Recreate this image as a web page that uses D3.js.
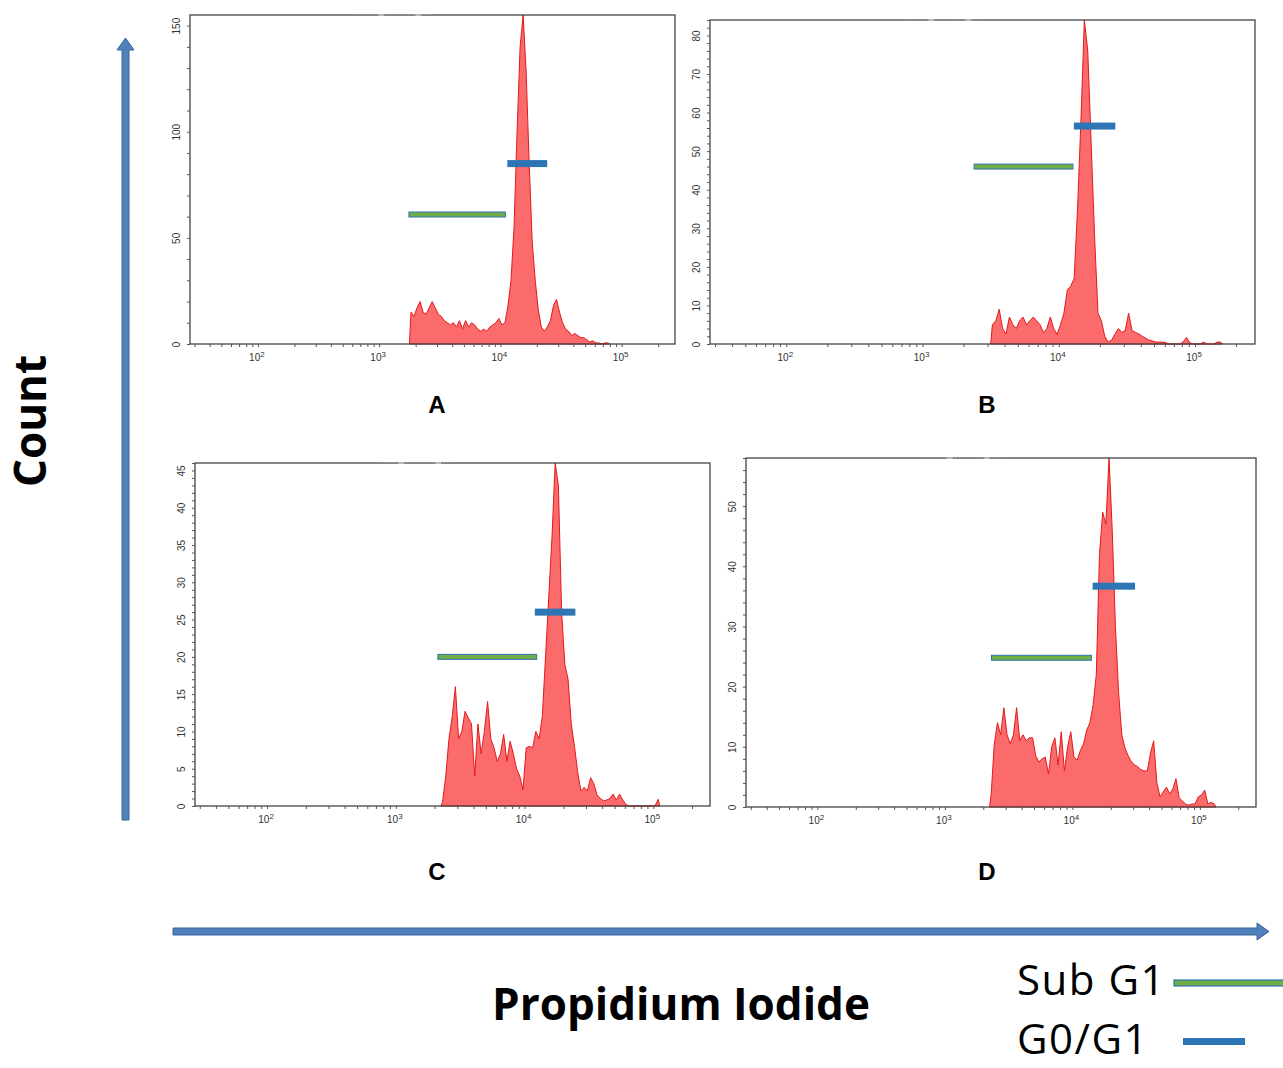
<!DOCTYPE html>
<html>
<head>
<meta charset="utf-8">
<script src="https://cdn.jsdelivr.net/npm/d3@7"></script>
<style>
  body { margin: 0; background: #fff; }
  svg { display: block; }
</style>
</head>
<body>
<script>
// histogram channels: first log10 channel and bin width (log10 units)
var binStep = 0.025;

var startA = 3.25;
var countsA = [15, 13, 17, 20, 15, 14, 17, 20, 17, 14, 13, 11, 10, 9, 10, 8, 11, 7, 11, 8,
	10, 9, 7, 6, 7, 6, 8, 9, 10, 12, 9, 10, 18, 30, 55, 100, 140, 155, 128, 85,
	48, 30, 16, 8, 6, 8, 11, 18, 21, 15, 10, 7, 6, 4, 5, 4, 3, 3, 2, 1,
	1.5, 0.5, 0.5, 0, 0.5, 0.5];

var startB = 3.5;
var countsB = [5, 6, 9, 4, 2.6, 7, 5, 4, 6, 7, 5, 6, 7, 6, 5, 3, 4, 7, 4, 2.5,
	5, 8, 14, 15, 17, 35, 58, 84, 76, 52, 28, 8, 6, 2, 0.5, 1, 2.6, 4, 3, 3.5,
	8, 3.5, 3, 2.6, 2, 1.5, 1, 0.8, 0.5, 0.5, 0.5, 0.3, 0, 0, 0, 0, 0.5, 1.7, 0.3, 0,
	0, 0, 0.5, 0, 0, 0, 0.5, 0.5];

var startC = 3.35;
var countsC = [0.5, 4, 9, 12, 16, 9, 10, 12.7, 11.8, 11, 4, 11, 7, 10, 14, 9, 7.8, 6, 7, 9.6,
	6, 8.7, 7, 5, 4, 2.2, 7.8, 8, 7.8, 10, 9, 12, 20, 28, 36, 46, 43, 26, 19, 17,
	11, 8, 4.5, 2, 2.5, 2, 3.8, 3, 1.5, 1, 0.7, 0.8, 1, 1.6, 0.8, 1.6, 0.8, 0.2, 0, 0,
	0, 0, 0, 0, 0, 0, 0, 0.9];

var startD = 3.35;
var countsD = [2, 10.5, 14, 12, 16.5, 12, 10.5, 12, 16.5, 11, 12, 11, 11.5, 11.5, 8.5, 7.5, 8, 8.3, 5.5, 10,
	11.5, 7, 12.5, 6, 10, 12.5, 8.3, 7.8, 9.4, 10.5, 12.8, 14, 17, 22, 42, 49, 47, 58, 46, 30,
	19, 12, 9.8, 8.5, 7.5, 7, 6.7, 6.2, 6, 6, 9, 11, 4, 1.7, 2.5, 3.3, 2.2, 3, 4.7, 1.5,
	1, 0.5, 0.3, 0.5, 0.5, 1.7, 2, 2.8, 0.5, 0.8, 0.5];

// gates: [from, to, count level]
var subG1 = [[1760, 11000, 61], [2390, 12700, 46], [2120, 12400, 20], [2320, 14100, 24.8]];
var g0g1 = [[11400, 24300, 85], [12900, 26000, 56.5], [12000, 24800, 26], [14400, 31000, 36.7]];

var yMax = [155, 84, 46, 58];
var yLabelStep = [50, 10, 5, 10];
var yMinorStep = [10, 2, 1, 2];
var decades = [100, 1000, 10000, 100000];
var panelNames = ['A', 'B', 'C', 'D'];

var starts = [startA, startB, startC, startD];
var counts = [countsA, countsB, countsC, countsD];

// frame boxes of the four panels
var boxes = [
	{ x0: 190, x1: 675, y0: 15, y1: 344 },
	{ x0: 710, x1: 1255, y0: 20, y1: 344 },
	{ x0: 195, x1: 710, y0: 463, y1: 806 },
	{ x0: 746, x1: 1256, y0: 458, y1: 807 }
];
var namePos = [[437, 413], [987, 413], [437, 880], [987, 880]];

var svg = d3.select("body").append("svg")
	.attr("width", 1283)
	.attr("height", 1068);

var arrowBlue = "#4f81bd", arrowEdge = "#3a6496";
var gateGreen = "#70ad47", gateBlue = "#2e75b6";

function drawPanel(p) {
	var b = boxes[p];
	var x = d3.scaleLog()
		.domain([Math.pow(10, 1.44), Math.pow(10, 5.44)])
		.range([b.x0, b.x1]);
	var y = d3.scaleLinear()
		.domain([0, yMax[p]])
		.range([b.y1, b.y0]);

	var g = svg.append("g");

	// histogram: one point per channel centre, closed at both ends
	var lo = starts[p], n = counts[p].length;
	var pts = [{ v: Math.pow(10, lo), c: 0 }];
	counts[p].forEach(function(c, i) {
		pts.push({ v: Math.pow(10, lo + (i + 0.5) * binStep), c: c });
	});
	pts.push({ v: Math.pow(10, lo + n * binStep), c: 0 });

	var area = d3.area()
		.x(function(d) { return x(d.v); })
		.y0(y(0))
		.y1(function(d) { return y(Math.min(d.c, yMax[p])); });

	g.append("path")
		.datum(pts)
		.attr("d", area)
		.attr("fill", "#fb6b6b")
		.attr("stroke", "#e3191c")
		.attr("stroke-width", 1)
		.attr("stroke-linejoin", "round");

	// frame
	g.append("rect")
		.attr("x", b.x0).attr("y", b.y0)
		.attr("width", b.x1 - b.x0).attr("height", b.y1 - b.y0)
		.attr("fill", "none")
		.attr("stroke", "#444")
		.attr("stroke-width", 1.3);

	// faint title remains above the frame
	g.append("text")
		.attr("x", (b.x0 + b.x1) / 2 - 40)
		.attr("y", b.y0 + 1)
		.attr("text-anchor", "middle")
		.attr("font-family", "Liberation Sans, Arial, sans-serif")
		.attr("font-size", 6)
		.attr("fill", "#bbb")
		.text("- - - - - - - \u25AC - - - - - - - - \u25AC - - -");

	// y axis, labels every yLabelStep, minor ticks in between
	var yAxis = d3.axisLeft(y)
		.tickValues(d3.range(0, yMax[p] + 0.001, yMinorStep[p]))
		.tickSize(3)
		.tickFormat(function(d) {
			return (Math.abs(d / yLabelStep[p] - Math.round(d / yLabelStep[p])) < 1e-6) ? d : "";
		});
	var ya = g.append("g")
		.attr("transform", "translate(" + b.x0 + ",0)")
		.call(yAxis);
	ya.select(".domain").remove();
	ya.selectAll(".tick line").attr("stroke", "#555");
	ya.selectAll(".tick text")
		.attr("font-family", "Liberation Sans, Arial, sans-serif")
		.attr("font-size", 10)
		.attr("fill", "#333")
		.attr("text-anchor", "middle")
		.attr("transform", "rotate(-90)")
		.attr("x", 0)
		.attr("y", -10)
		.attr("dy", "0");

	// x axis with minor ticks
	var minor = [];
	for (var k = 0; k < 6; k++) {
		for (var m = 1; m < 10; m++) {
			var v = Math.pow(10, k) * m;
			if (v >= x.domain()[0] && v <= x.domain()[1]) minor.push(v);
		}
	}
	var xa = g.append("g")
		.attr("transform", "translate(0," + b.y1 + ")")
		.call(d3.axisBottom(x).tickValues(minor).tickSize(3).tickFormat(""));
	xa.select(".domain").remove();
	xa.selectAll(".tick line").attr("stroke", "#555");

	var lab = g.selectAll(".xlab")
		.data(decades)
		.enter().append("text")
		.attr("x", function(d) { return x(d) - 1; })
		.attr("y", b.y1 + 17)
		.attr("text-anchor", "middle")
		.attr("font-family", "Liberation Sans, Arial, sans-serif")
		.attr("font-size", 10)
		.attr("fill", "#333");
	lab.append("tspan").text("10");
	lab.append("tspan")
		.attr("dy", -4)
		.attr("font-size", 8)
		.text(function(d) { return Math.round(Math.log10(d)); });

	// gates
	var s = subG1[p];
	g.append("rect")
		.attr("x", x(s[0])).attr("y", y(s[2]) - 2.5)
		.attr("width", x(s[1]) - x(s[0])).attr("height", 5)
		.attr("fill", gateGreen)
		.attr("stroke", gateBlue)
		.attr("stroke-width", 1);
	var q = g0g1[p];
	g.append("rect")
		.attr("x", x(q[0])).attr("y", y(q[2]) - 3.5)
		.attr("width", x(q[1]) - x(q[0])).attr("height", 7)
		.attr("fill", gateBlue);

	// panel letter
	svg.append("text")
		.attr("x", namePos[p][0]).attr("y", namePos[p][1])
		.attr("text-anchor", "middle")
		.attr("font-family", "Liberation Sans, Arial, sans-serif")
		.attr("font-weight", "bold")
		.attr("font-size", 24)
		.text(panelNames[p]);
}

for (var p = 0; p < 4; p++) drawPanel(p);

// big axis arrows
svg.append("path")
	.attr("d", "M122,820 L122,50 L117,50 L125.5,38 L134,50 L129,50 L129,820 Z")
	.attr("fill", arrowBlue)
	.attr("stroke", arrowEdge)
	.attr("stroke-width", 1);
svg.append("path")
	.attr("d", "M173,928 L1257,928 L1257,923 L1269,931.5 L1257,940 L1257,935 L173,935 Z")
	.attr("fill", arrowBlue)
	.attr("stroke", arrowEdge)
	.attr("stroke-width", 1);

svg.append("text")
	.attr("transform", "translate(46,421) rotate(-90)")
	.attr("text-anchor", "middle")
	.attr("font-family", "Open Sans, sans-serif")
	.attr("font-weight", "bold")
	.attr("font-size", 44)
	.text("Count");

svg.append("text")
	.attr("x", 681).attr("y", 1020)
	.attr("text-anchor", "middle")
	.attr("font-family", "Open Sans, sans-serif")
	.attr("font-weight", "bold")
	.attr("font-size", 44)
	.text("Propidium Iodide");

// legend
svg.append("text")
	.attr("x", 1017).attr("y", 995)
	.attr("font-family", "Open Sans, sans-serif")
	.attr("font-size", 42)
	.attr("letter-spacing", 1.5)
	.text("Sub G1");
svg.append("text")
	.attr("x", 1017).attr("y", 1054)
	.attr("font-family", "Open Sans, sans-serif")
	.attr("font-size", 42)
	.attr("letter-spacing", 1.5)
	.text("G0/G1");
svg.append("rect")
	.attr("x", 1174).attr("y", 980).attr("width", 112).attr("height", 6)
	.attr("fill", gateGreen).attr("stroke", gateBlue).attr("stroke-width", 1.2);
svg.append("rect")
	.attr("x", 1183).attr("y", 1038).attr("width", 62).attr("height", 7)
	.attr("fill", gateBlue);
</script>
</body>
</html>
